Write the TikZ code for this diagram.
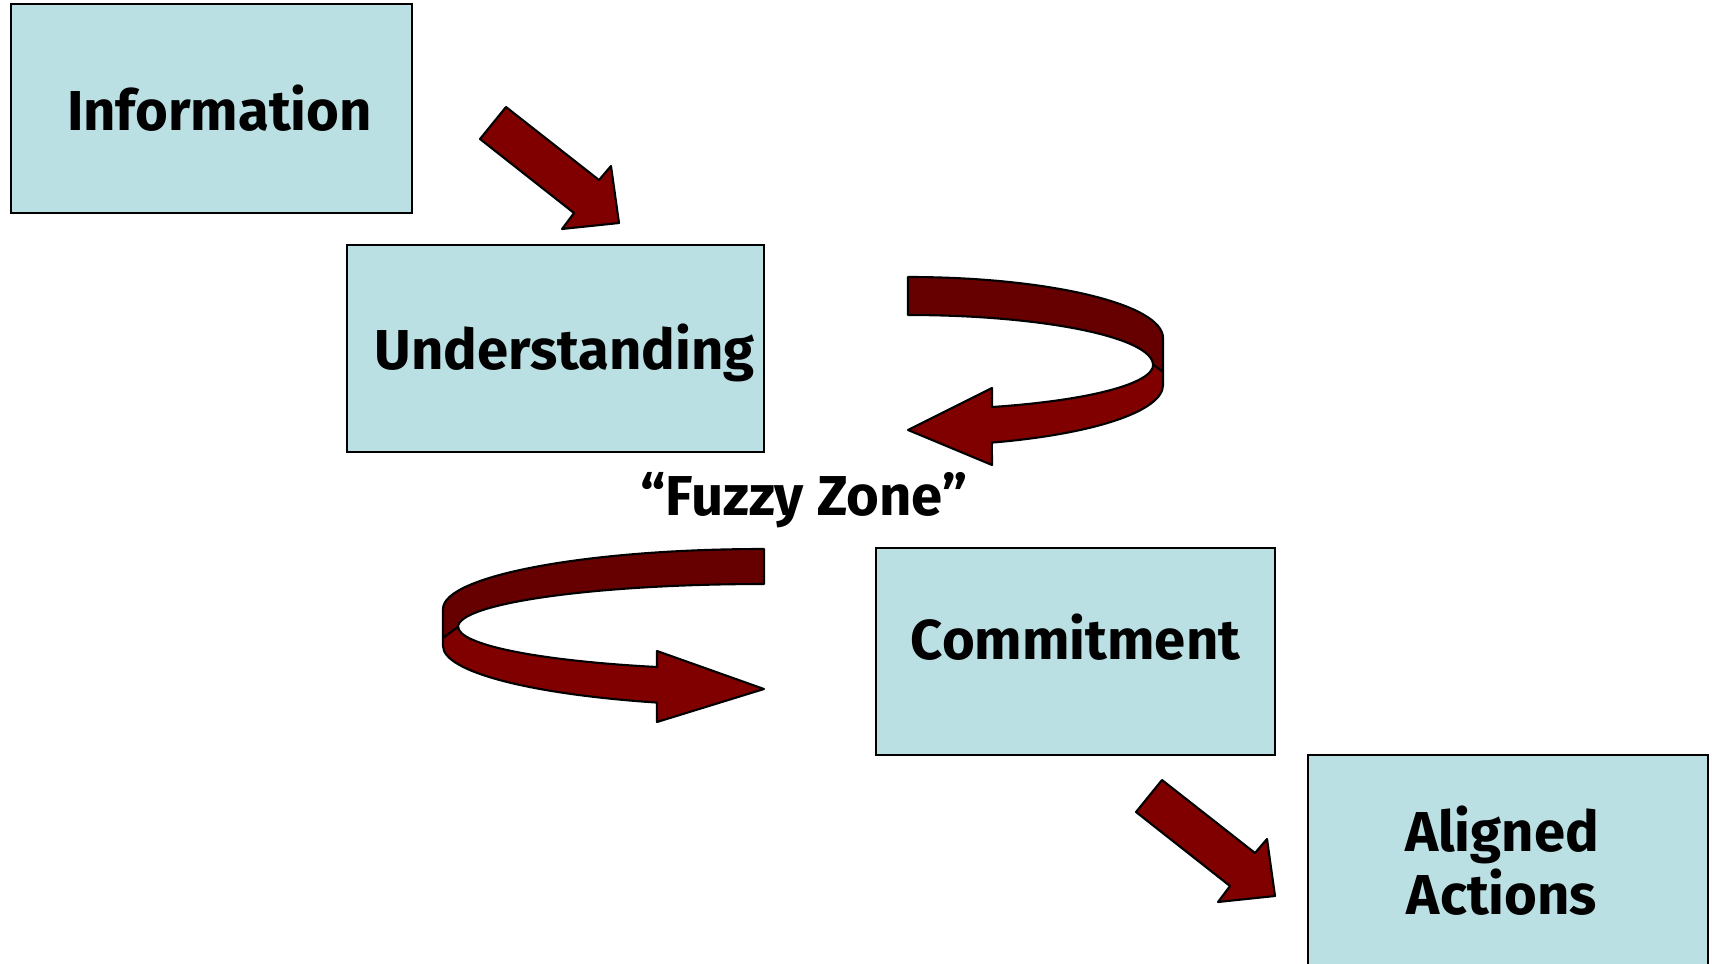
\documentclass[tikz,border=0pt]{standalone}
\usepackage{fontspec}
\setmainfont{Fira Sans}
\usetikzlibrary{positioning}
\definecolor{boxblue}{RGB}{187,224,227}
\definecolor{arrowred}{RGB}{128,0,0}
\definecolor{arrowdark}{RGB}{102,0,0}
\tikzstyle{stage}=[draw,fill=boxblue,line width=0.6pt,inner sep=0pt]
\tikzstyle{lbl}=[inner sep=0pt,align=center,font=\fontsize{16}{18}\selectfont\bfseries]
\tikzstyle{blk}=[draw,fill=arrowred,line width=0.6pt,line join=round]
\tikzstyle{blkback}=[draw,fill=arrowdark,line width=0.6pt,line join=round]

\begin{document}
\begin{tikzpicture}
\useasboundingbox (0,0) rectangle (17.12,9.63);
% stages
\node[stage,minimum width=4.01cm,minimum height=2.09cm] at (2.115,8.545)(info){};
\node[stage,minimum width=4.17cm,minimum height=2.07cm] at (5.555,6.145)(under){};
\node[stage,minimum width=3.99cm,minimum height=2.07cm] at (10.755,3.115)(commit){};
\node[stage,minimum width=4.00cm,minimum height=2.17cm] at (15.08,0.995)(aligned){};
\node[lbl] at ([shift={(0.08,0)}]info.center)(infotxt){Information};
\node[lbl] at ([shift={(0.09,-0.04)}]under.center)(undertxt){Understanding};
\node[lbl] at ([shift={(0,0.14)}]commit.center)(committxt){Commitment};
\node[lbl] at ([shift={(-0.06,0.03)}]aligned.center)(alignedtxt){Aligned\\Actions};
\node[lbl] at (8.04,4.63)(fuzzy){“Fuzzy Zone”};

% straight arrows
\foreach \dx/\dy in {0/0,6.56/-6.73}{
\begin{scope}[shift={(\dx,\dy)}]
\draw[blk] (4.80,8.24) -- (5.06,8.56) -- (5.99,7.83) -- (6.11,7.97) -- (6.19,7.40) -- (5.62,7.34) -- (5.74,7.50) -- cycle;
\end{scope}}

% upper swirl
\draw[blkback] (9.08,6.86) arc[start angle=90,end angle=0,x radius=2.55,y radius=.61] -- (11.63,5.91) -- (11.53,5.98) arc[start angle=0,end angle=90,x radius=2.45,y radius=.5] -- cycle;
\draw[blk] (11.63,5.78) arc[start angle=0,end angle=-70.8,x radius=2.55,y radius=.61] -- (9.92,4.98) -- (9.08,5.33) -- (9.92,5.75) -- (9.92,5.56) arc[start angle=-70,end angle=0,x radius=2.45,y radius=.45] -- (11.63,5.91) -- cycle;

% lower swirl
\draw[blkback] (7.64,4.14) arc[start angle=90,end angle=180,x radius=3.21,y radius=.6] -- (4.43,3.25) -- (4.58,3.36) arc[start angle=180,end angle=90,x radius=3.06,y radius=.43] -- cycle;
\draw[blk] (4.43,3.17) arc[start angle=180,end angle=250.5,x radius=3.21,y radius=.6] -- (6.57,2.41) -- (7.64,2.74) -- (6.57,3.12) -- (6.57,2.96) arc[start angle=249.5,end angle=180,x radius=3.06,y radius=.43] -- (4.43,3.25) -- cycle;
\end{tikzpicture}
\end{document}
